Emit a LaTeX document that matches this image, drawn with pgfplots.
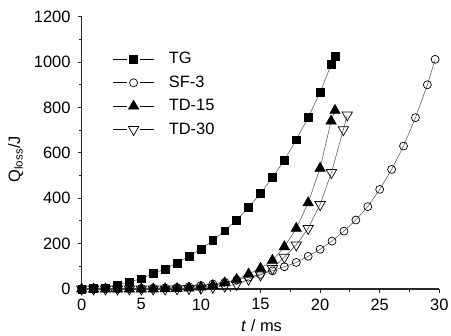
\documentclass[border=0pt]{standalone}
\usepackage{fontspec}
\setmainfont{Liberation Sans}
\usepackage{pgfplots}
\pgfplotsset{compat=1.18}
\pgfplotsset{mylegend/.style={legend image code/.code={%
    \draw[black,line width=0.8bp] (0bp,0bp) -- (14bp,0bp);
    \draw[black,line width=0.8bp] (26.6bp,0bp) -- (40.6bp,0bp);
    \path[mark repeat=2,mark phase=2,black,draw=none]
      plot coordinates {(0bp,0bp)(20.3bp,0bp)(40.6bp,0bp)};}}}
\begin{document}
\fontsize{16.5}{19}\selectfont
\begin{tikzpicture}
\begin{axis}[
  at={(0,0)}, anchor=south west,
  scale only axis,
  width=357.6bp, height=272.3bp,
  xmin=0, xmax=30, ymin=0, ymax=1200,
  axis lines=left,
  axis line style={-, line width=1.1bp, black!85},
  xtick={0,5,...,30}, ytick={0,200,...,1200},
  minor x tick num=1, minor y tick num=1,
  tick align=outside,
  major tick length=4bp, minor tick length=2.5bp,
  tick style={line width=0.9bp, black!85},
  /pgf/number format/assume math mode=true,
  /pgf/number format/1000 sep={},
  ticklabel style={font=\fontsize{16.5}{19}\selectfont},
  yticklabel style={xshift=-1.5bp},
  xlabel={\textit{t} / ms},
  ylabel={Q\textsubscript{loss}/J},
  xlabel style={at={([yshift=-42.5bp]axis description cs:0.503,0)}, anchor=base},
  ylabel style={at={(axis description cs:-0.1846,0.477)}, anchor=center},
  legend style={at={([xshift=31bp,yshift=-34bp]axis description cs:0,1)}, anchor=north west,
    draw=none, fill=none, inner sep=0pt,
    font=\fontsize{16.5}{19}\selectfont, row sep=6.5bp, column sep=13bp,
    nodes={inner sep=1.5pt}},
  legend cell align=left,
  every axis plot/.append style={line width=0.55bp, black!65, mark size=4bp},
  clip=false,
]
\addplot[mylegend, mark=square*, mark options={fill=black, draw=black, mark size=3.9bp}] coordinates {
(0,0)(1,2)(2,5)(3,17)(4,32)(5,45)(6,69)(7,88)(8,115)(9,145)(10,176)(11,213)(12,257)(13,304)(14,360)(15,422)(16,491)(17,567)(18,658)(19,756)(20,867)(20.95,991)(21.25,1027)};
\addlegendentry{TG}
\addplot[mylegend, mark=o, mark options={fill=white, draw=black, line width=0.7bp}] coordinates {
(0,0)(1,0)(2,1)(3,1)(4,2)(5,3)(6,4)(7,5)(8,7)(9,10)(10,15)(11,22)(12,30)(13,40)(14,52)(15,65)(16,80)(17,98)(18,117)(19,144)(20,175)(21,211)(22,255)(23,304)(24,363)(25,439)(26,527)(27,630)(28,755)(29,900)(29.65,1012)};
\addlegendentry{SF-3}
\addplot[mylegend, mark=triangle*, mark options={fill=black, draw=black, mark size=6bp}] coordinates {
(0,0)(1,0)(2,0)(3,0)(4,0)(5,0)(6,0)(7,1)(8,2)(9,4)(10,8)(11,15)(12,27)(13,42)(14,66)(15,91)(16,126)(17,186)(18,267)(19,380)(20,532)(20.92,740)(21.25,787)};
\addlegendentry{TD-15}
\addplot[mylegend, mark=triangle, mark options={fill=white, draw=black, rotate=180, mark size=6bp, line width=0.7bp}] coordinates {
(0,0)(1,0)(2,0)(3,0)(4,0)(5,0)(6,0)(7,0)(8,1)(9,2)(10,4)(11,8)(12,13)(13,20)(14,43)(15,62)(16,90)(17,140)(18,194)(19,267)(20,372)(20.95,513)(21.95,702)(22.28,767)};
\addlegendentry{TD-30}
\end{axis}
\pgfresetboundingbox
\path (-81.7bp,-47bp) rectangle (369.3bp,289bp);
\end{tikzpicture}
\end{document}
